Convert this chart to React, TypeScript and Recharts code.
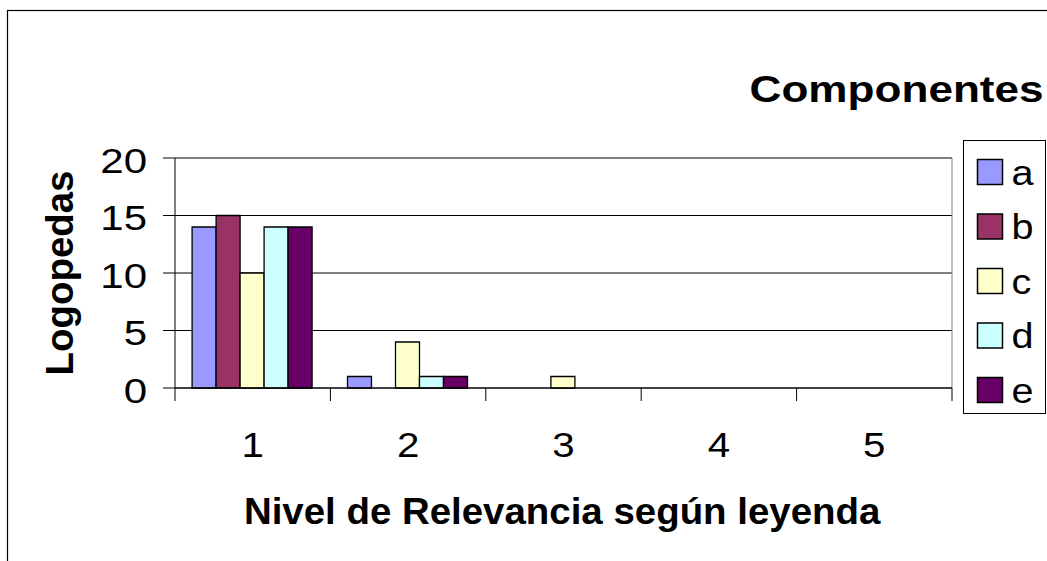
import React from 'react';
import { BarChart, Bar, XAxis, YAxis, CartesianGrid } from 'recharts';

const categories = ['1', '2', '3', '4', '5'];
const seriesA = [14, 1, 0, 0, 0];
const seriesB = [15, 0, 0, 0, 0];
const seriesC = [10, 4, 1, 0, 0];
const seriesD = [14, 1, 0, 0, 0];
const seriesE = [14, 1, 0, 0, 0];
const seriesNames = ['a', 'b', 'c', 'd', 'e'];
const seriesColors = ['#9999FF', '#993366', '#FFFFCC', '#CCFFFF', '#660066'];
const yTicks = [0, 5, 10, 15, 20];
const chartTitle = 'Componentes';
const xTitle = 'Nivel de Relevancia según leyenda';
const yTitle = 'Logopedas';

const seriesValues = [seriesA, seriesB, seriesC, seriesD, seriesE];
const data = categories.map((cat, i) => {
  const row: Record<string, any> = { cat };
  seriesNames.forEach((n, s) => {
    row[n] = seriesValues[s][i];
  });
  return row;
});

const FONT = 'Liberation Sans';

const YTick = (props: any) => {
  const { x, y, payload } = props;
  return (
    <g transform={`translate(${x},${y + 14.5}) scale(1.2,1)`}>
      <text x={0} y={0} textAnchor="end" fontSize={35} fontFamily={FONT} fill="#000">
        {payload.value}
      </text>
    </g>
  );
};

const XTick = (props: any) => {
  const { x, y, payload, index } = props;
  const half = payload && typeof payload.offset === 'number' && payload.offset > 0 ? payload.offset : 77.7;
  const axisY = y - 13;
  const isLast = index === categories.length - 1;
  return (
    <g>
      <line x1={x - half} x2={x - half} y1={axisY} y2={y} stroke="#000" strokeWidth={1} />
      {isLast && <line x1={x + half} x2={x + half} y1={axisY} y2={y} stroke="#000" strokeWidth={1} />}
      <g transform={`translate(${x},${y + 56}) scale(1.15,1)`}>
        <text x={0} y={0} textAnchor="middle" fontSize={35} fontFamily={FONT} fill="#000">
          {payload.value}
        </text>
      </g>
    </g>
  );
};

export default function App() {
  return (
    <div
      style={{
        position: 'fixed',
        left: 0,
        top: 0,
        width: 1047,
        height: 561,
        overflow: 'hidden',
        background: '#fff',
      }}
    >
      <div style={{ position: 'absolute', left: 0, top: 0 }}>
        <BarChart
          width={1047}
          height={561}
          data={data}
          margin={{ top: 158, right: 95, bottom: 0, left: 0 }}
          barCategoryGap="11%"
          barGap={0}
        >
          <CartesianGrid vertical={false} stroke="#000" strokeWidth={1} />
          <CartesianGrid
            stroke="#808080"
            strokeWidth={1}
            horizontalCoordinatesGenerator={({ offset }: any) => [offset.top]}
            verticalCoordinatesGenerator={({ offset }: any) => [offset.left + offset.width]}
          />
          <XAxis
            dataKey="cat"
            height={173}
            tickSize={13}
            tickMargin={0}
            tickLine={false}
            axisLine={{ stroke: '#000', strokeWidth: 1 }}
            tick={XTick}
            interval={0}
          />
          <YAxis
            domain={[0, 20]}
            ticks={yTicks}
            width={175}
            tickSize={12}
            tickMargin={16}
            axisLine={{ stroke: '#000', strokeWidth: 1 }}
            tickLine={{ stroke: '#000', strokeWidth: 1 }}
            tick={YTick}
            interval={0}
          />
          {seriesNames.map((n, i) => (
            <Bar
              key={n}
              dataKey={n}
              fill={seriesColors[i]}
              stroke="#000"
              strokeWidth={1.3}
              isAnimationActive={false}
            />
          ))}
        </BarChart>
      </div>
      <svg
        width={1047}
        height={561}
        style={{ position: 'absolute', left: 0, top: 0, pointerEvents: 'none' }}
      >
        <rect x={7.5} y={10.5} width={1200} height={700} fill="none" stroke="#000" strokeWidth={1.2} />
        <text
          x={749.6}
          y={102}
          fontSize={37}
          fontWeight="bold"
          fontFamily={FONT}
          textLength={294}
          lengthAdjust="spacingAndGlyphs"
          fill="#000"
        >
          {chartTitle}
        </text>
        <text
          x={243.9}
          y={524.3}
          fontSize={36}
          fontWeight="bold"
          fontFamily={FONT}
          textLength={636.5}
          lengthAdjust="spacingAndGlyphs"
          fill="#000"
        >
          {xTitle}
        </text>
        <g transform="translate(73.3,375.5) rotate(-90)">
          <text
            x={0}
            y={0}
            fontSize={39}
            fontWeight="bold"
            fontFamily={FONT}
            textLength={205}
            lengthAdjust="spacingAndGlyphs"
            fill="#000"
          >
            {yTitle}
          </text>
        </g>
        <rect x={963.5} y={140.5} width={82} height={273} fill="#fff" stroke="#000" strokeWidth={1} />
        {seriesNames.map((n, i) => (
          <g key={n}>
            <rect
              x={977.5}
              y={159.5 + i * 54.5}
              width={25}
              height={25}
              fill={seriesColors[i]}
              stroke="#000"
              strokeWidth={1.5}
            />
            <g transform={`translate(1011.4,${184.5 + i * 54.5}) scale(1.1,1)`}>
              <text x={0} y={0} fontSize={36} fontFamily={FONT} fill="#000">
                {n}
              </text>
            </g>
          </g>
        ))}
      </svg>
    </div>
  );
}
